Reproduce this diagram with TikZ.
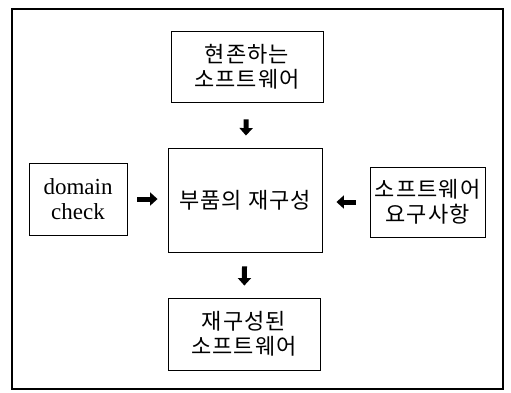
\documentclass[tikz,border=0pt]{standalone}
\usepackage{fontspec}
\setmainfont{Liberation Serif}
\newfontfamily\kr[LetterSpace=5]{Noto Sans CJK KR}
\usetikzlibrary{arrows.meta}
\begin{document}
\begin{tikzpicture}[x=1pt,y=-1pt,
  box/.style={draw,line width=0.9pt,inner sep=0pt,align=center,font=\kr\fontsize{22}{25}\selectfont},
  blk/.style={line width=5pt,-{Triangle[width=13pt,length=7.5pt]}}]
\useasboundingbox (0,0) rectangle (511,392);
\draw[line width=1.8pt] (12,9) rectangle (503,389);
\node[box,minimum width=152pt,minimum height=71pt] (top) at (247,66.5) {현존하는\\소프트웨어};
\node[box,minimum width=154pt,minimum height=104pt] (mid) at (245,200) {부품의 재구성};
\node[box,minimum width=98pt,minimum height=72pt,font=\fontsize{23}{25}\selectfont] (dom) at (78,199) {domain\\check};
\node[box,minimum width=115pt,minimum height=70pt] (req) at (427.5,202) {소프트웨어\\요구사항};
\node[box,minimum width=152pt,minimum height=72pt] (out) at (244,334) {재구성된\\소프트웨어};
\draw[blk,shorten <=17pt,shorten >=12pt] (top) -- (mid);
\draw[blk,shorten <=14pt,shorten >=12pt] (mid) -- (out);
\draw[blk,shorten <=10pt,shorten >=10pt] (dom.east) -- (dom.east -| mid.west);
\draw[blk,shorten <=14pt,shorten >=14pt] (req.west) -- (req.west -| mid.east);
\end{tikzpicture}
\end{document}
